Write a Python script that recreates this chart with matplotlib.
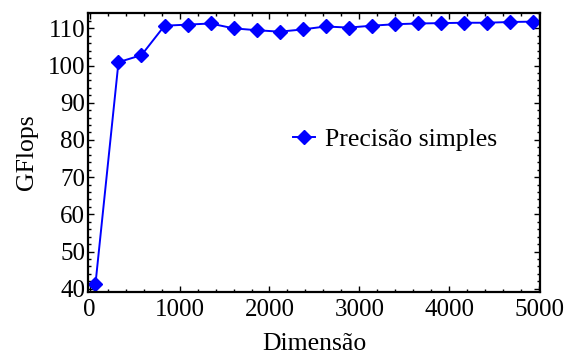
import matplotlib.pyplot as plt
from matplotlib.ticker import MultipleLocator

plt.rcParams['font.family'] = 'Liberation Serif'
plt.rcParams['font.size'] = 18

# Matrix dimension vs measured single-precision throughput
dimensao = [64, 320, 576, 832, 1088, 1344, 1600, 1856, 2112, 2368,
            2624, 2880, 3136, 3392, 3648, 3904, 4160, 4416, 4672, 4928]
gflops = [41.3, 100.9, 102.8, 110.7, 111.0, 111.3, 110.0, 109.5, 109.1, 109.7,
          110.5, 110.2, 110.7, 111.1, 111.3, 111.4, 111.5, 111.5, 111.7, 111.8]

fig = plt.figure(figsize=(5.66, 3.58), dpi=100)
ax = fig.add_axes([0.1555, 0.1852, 0.7985, 0.7793])

ax.plot(dimensao, gflops, color='blue', linewidth=1.4, marker='D',
        markersize=7, label='Precisão simples')

ax.set_xlim(-19, 5009)
ax.set_ylim(39.2, 114.2)

# Frame-style ticks pointing inward on all four sides
ax.xaxis.set_major_locator(MultipleLocator(1000))
ax.xaxis.set_minor_locator(MultipleLocator(200))
ax.yaxis.set_major_locator(MultipleLocator(10))
ax.yaxis.set_minor_locator(MultipleLocator(2))
ax.tick_params(which='both', direction='in', top=True, right=True, width=1.0)
ax.tick_params(which='major', length=4.5, pad=2)
ax.tick_params(which='minor', length=2.5)
ax.tick_params(axis='x', pad=5)
for s in ax.spines.values():
    s.set_linewidth(1.6)

ax.set_xlabel('Dimensão', fontsize=18.5, labelpad=9)
ax.set_ylabel('GFlops', fontsize=18.5, labelpad=7)

ax.legend(loc='center left', bbox_to_anchor=(293 / 566, 1 - 140 / 358),
          bbox_transform=fig.transFigure, frameon=False, borderpad=0,
          borderaxespad=0, handlelength=0.85, handletextpad=0.4,
          numpoints=1, fontsize=18.5)

fig.savefig('out.png', dpi=100)
